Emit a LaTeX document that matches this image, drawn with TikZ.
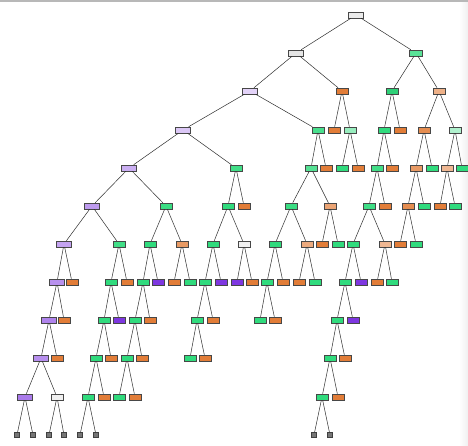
\documentclass[tikz,border=0pt]{standalone}
\definecolor{cO}{HTML}{E27D38}
\definecolor{cG}{HTML}{30DB7D}
\definecolor{cP}{HTML}{7E37E0}
\definecolor{cT}{HTML}{767676}
\begin{document}
\begin{tikzpicture}[x=1pt,y=-1pt,
  box/.style={draw=black!72, line width=0.55pt, minimum width=12pt, minimum height=6pt, inner sep=0pt},
  wbox/.style={box, minimum width=15.5pt},
  fo/.style={box, fill=cO},
  fg/.style={box, fill=cG},
  fp/.style={box, fill=cP},
  trunc/.style={draw=black!75, fill=cT, minimum width=5pt, minimum height=5pt, inner sep=0pt},
  edge/.style={draw=black!82, line width=0.5pt}]
\useasboundingbox (0,0) rectangle (468,446);
\fill[white] (0,0) rectangle (468,446);
\shade[left color=white, right color=black!6] (459,2) rectangle (468,446);
\draw[black!28, line width=1.2pt] (0,1) -- (468,1);
% row 0
\node[wbox, fill=white!92!black] (r0x356) at (356,15) {};
% row 1
\node[wbox, fill=white!90!black] (r1x296) at (296,53) {};
\node[box, minimum width=13pt, fill=cG!80!white] (r1x416) at (416,53) {};
% row 2
\node[wbox, fill=cP!22!white] (r2x250) at (250,91) {};
\node[fo] (r2x342) at (342,91) {};
\node[box, fill=cG!95!black] (r2x392) at (392,91) {};
\node[box, fill=cO!60!white] (r2x439) at (439,91) {};
% row 3
\node[wbox, fill=cP!28!white] (r3x183) at (183,130) {};
\node[box, fill=cG!88!white] (r3x318) at (318,130) {};
\node[fo] (r3x334) at (334,130) {};
\node[box, fill=cG!50!white] (r3x350) at (350,130) {};
\node[fg] (r3x384) at (384,130) {};
\node[fo] (r3x400) at (400,130) {};
\node[box, fill=cO!88!white] (r3x424) at (424,130) {};
\node[box, fill=cG!38!white] (r3x455) at (455,130) {};
% row 4
\node[wbox, fill=cP!40!white] (r4x129) at (129,168) {};
\node[box, fill=cG!92!white] (r4x236) at (236,168) {};
\node[box, fill=cG!82!white] (r4x311) at (311,168) {};
\node[fo] (r4x326) at (326,168) {};
\node[fg] (r4x342) at (342,168) {};
\node[fo] (r4x358) at (358,168) {};
\node[box, fill=cG!92!white] (r4x377) at (377,168) {};
\node[fo] (r4x392) at (392,168) {};
\node[box, fill=cO!78!white] (r4x416) at (416,168) {};
\node[fg] (r4x432) at (432,168) {};
\node[box, fill=cO!55!white] (r4x447) at (447,168) {};
\node[fg] (r4x462) at (462,168) {};
% row 5
\node[wbox, fill=cP!50!white] (r5x92) at (92,206) {};
\node[box, fill=cG!95!white] (r5x166) at (166,206) {};
\node[fg] (r5x228) at (228,206) {};
\node[fo] (r5x244) at (244,206) {};
\node[box, fill=cG!95!white] (r5x291) at (291,206) {};
\node[box, fill=cO!70!white] (r5x330) at (330,206) {};
\node[box, fill=cG!93!white] (r5x369) at (369,206) {};
\node[fo] (r5x385) at (385,206) {};
\node[box, fill=cO!88!white] (r5x408) at (408,206) {};
\node[fg] (r5x424) at (424,206) {};
\node[fo] (r5x440) at (440,206) {};
\node[fg] (r5x455) at (455,206) {};
% row 6
\node[wbox, fill=cP!46!white] (r6x64) at (64,244) {};
\node[box, fill=cG!92!white] (r6x119) at (119,244) {};
\node[fg] (r6x150) at (150,244) {};
\node[box, fill=cO!78!white] (r6x182) at (182,244) {};
\node[fg] (r6x213) at (213,244) {};
\node[box, fill=white!94!black] (r6x244) at (244,244) {};
\node[fg] (r6x275) at (275,244) {};
\node[box, fill=cO!65!white] (r6x307) at (307,244) {};
\node[fo] (r6x322) at (322,244) {};
\node[fg] (r6x338) at (338,244) {};
\node[fg] (r6x353) at (353,244) {};
\node[box, fill=cO!55!white] (r6x385) at (385,244) {};
\node[fo] (r6x400) at (400,244) {};
\node[fg] (r6x416) at (416,244) {};
% row 7
\node[wbox, fill=cP!55!white] (r7x57) at (57,282) {};
\node[fo] (r7x72) at (72,282) {};
\node[fg] (r7x111) at (111,282) {};
\node[fo] (r7x127) at (127,282) {};
\node[fg] (r7x143) at (143,282) {};
\node[fp] (r7x158) at (158,282) {};
\node[fo] (r7x174) at (174,282) {};
\node[fg] (r7x190) at (190,282) {};
\node[fg] (r7x205) at (205,282) {};
\node[fp] (r7x221) at (221,282) {};
\node[fp] (r7x237) at (237,282) {};
\node[fo] (r7x252) at (252,282) {};
\node[fg] (r7x267) at (267,282) {};
\node[fo] (r7x283) at (283,282) {};
\node[fo] (r7x299) at (299,282) {};
\node[fg] (r7x315) at (315,282) {};
\node[fg] (r7x345) at (345,282) {};
\node[fp] (r7x361) at (361,282) {};
\node[fo] (r7x377) at (377,282) {};
\node[fg] (r7x392) at (392,282) {};
% row 8
\node[wbox, fill=cP!62!white] (r8x49) at (49,320) {};
\node[fo] (r8x64) at (64,320) {};
\node[fg] (r8x104) at (104,320) {};
\node[fp] (r8x119) at (119,320) {};
\node[fg] (r8x135) at (135,320) {};
\node[fo] (r8x150) at (150,320) {};
\node[fg] (r8x197) at (197,320) {};
\node[fo] (r8x213) at (213,320) {};
\node[fg] (r8x260) at (260,320) {};
\node[fo] (r8x275) at (275,320) {};
\node[fg] (r8x337) at (337,320) {};
\node[fp] (r8x353) at (353,320) {};
% row 9
\node[wbox, fill=cP!56!white] (r9x41) at (41,358) {};
\node[fo] (r9x57) at (57,358) {};
\node[fg] (r9x96) at (96,358) {};
\node[fo] (r9x111) at (111,358) {};
\node[fg] (r9x127) at (127,358) {};
\node[fo] (r9x142) at (142,358) {};
\node[fg] (r9x190) at (190,358) {};
\node[fo] (r9x205) at (205,358) {};
\node[fg] (r9x330) at (330,358) {};
\node[fo] (r9x345) at (345,358) {};
% row 10
\node[wbox, fill=cP!66!white] (r10x25) at (25,397) {};
\node[box, fill=white!94!black] (r10x57) at (57,397) {};
\node[fg] (r10x88) at (88,397) {};
\node[fo] (r10x104) at (104,397) {};
\node[fg] (r10x119) at (119,397) {};
\node[fo] (r10x135) at (135,397) {};
\node[fg] (r10x322) at (322,397) {};
\node[fo] (r10x338) at (338,397) {};
% row 11 (truncated)
\foreach \x in {17,33,49,64,80,96,314,330}
  \node[trunc] (r11x\x) at (\x,435) {};
% edges
\foreach \p/\c in {
 r0x356/r1x296, r0x356/r1x416,
 r1x296/r2x250, r1x296/r2x342, r1x416/r2x392, r1x416/r2x439,
 r2x250/r3x183, r2x250/r3x318, r2x342/r3x334, r2x342/r3x350,
 r2x392/r3x384, r2x392/r3x400, r2x439/r3x424, r2x439/r3x455,
 r3x183/r4x129, r3x183/r4x236, r3x318/r4x311, r3x318/r4x326,
 r3x350/r4x342, r3x350/r4x358, r3x384/r4x377, r3x384/r4x392,
 r3x424/r4x416, r3x424/r4x432, r3x455/r4x447, r3x455/r4x462,
 r4x129/r5x92, r4x129/r5x166, r4x236/r5x228, r4x236/r5x244,
 r4x311/r5x291, r4x311/r5x330, r4x377/r5x369, r4x377/r5x385,
 r4x416/r5x408, r4x416/r5x424, r4x447/r5x440, r4x447/r5x455,
 r5x92/r6x64, r5x92/r6x119, r5x166/r6x150, r5x166/r6x182,
 r5x228/r6x213, r5x228/r6x244, r5x291/r6x275, r5x291/r6x307,
 r5x330/r6x322, r5x330/r6x338, r5x369/r6x353, r5x369/r6x385,
 r5x408/r6x400, r5x408/r6x416,
 r6x64/r7x57, r6x64/r7x72, r6x119/r7x111, r6x119/r7x127,
 r6x150/r7x143, r6x150/r7x158, r6x182/r7x174, r6x182/r7x190,
 r6x213/r7x205, r6x213/r7x221, r6x244/r7x237, r6x244/r7x252,
 r6x275/r7x267, r6x275/r7x283, r6x307/r7x299, r6x307/r7x315,
 r6x353/r7x345, r6x353/r7x361, r6x385/r7x377, r6x385/r7x392,
 r7x57/r8x49, r7x57/r8x64, r7x111/r8x104, r7x111/r8x119,
 r7x143/r8x135, r7x143/r8x150, r7x205/r8x197, r7x205/r8x213,
 r7x267/r8x260, r7x267/r8x275, r7x345/r8x337, r7x345/r8x353,
 r8x49/r9x41, r8x49/r9x57, r8x104/r9x96, r8x104/r9x111,
 r8x135/r9x127, r8x135/r9x142, r8x197/r9x190, r8x197/r9x205,
 r8x337/r9x330, r8x337/r9x345,
 r9x41/r10x25, r9x41/r10x57, r9x96/r10x88, r9x96/r10x104,
 r9x127/r10x119, r9x127/r10x135, r9x330/r10x322, r9x330/r10x338,
 r10x25/r11x17, r10x25/r11x33, r10x57/r11x49, r10x57/r11x64,
 r10x88/r11x80, r10x88/r11x96, r10x322/r11x314, r10x322/r11x330}
  \draw[edge] (\p) -- (\c);
\end{tikzpicture}
\end{document}
